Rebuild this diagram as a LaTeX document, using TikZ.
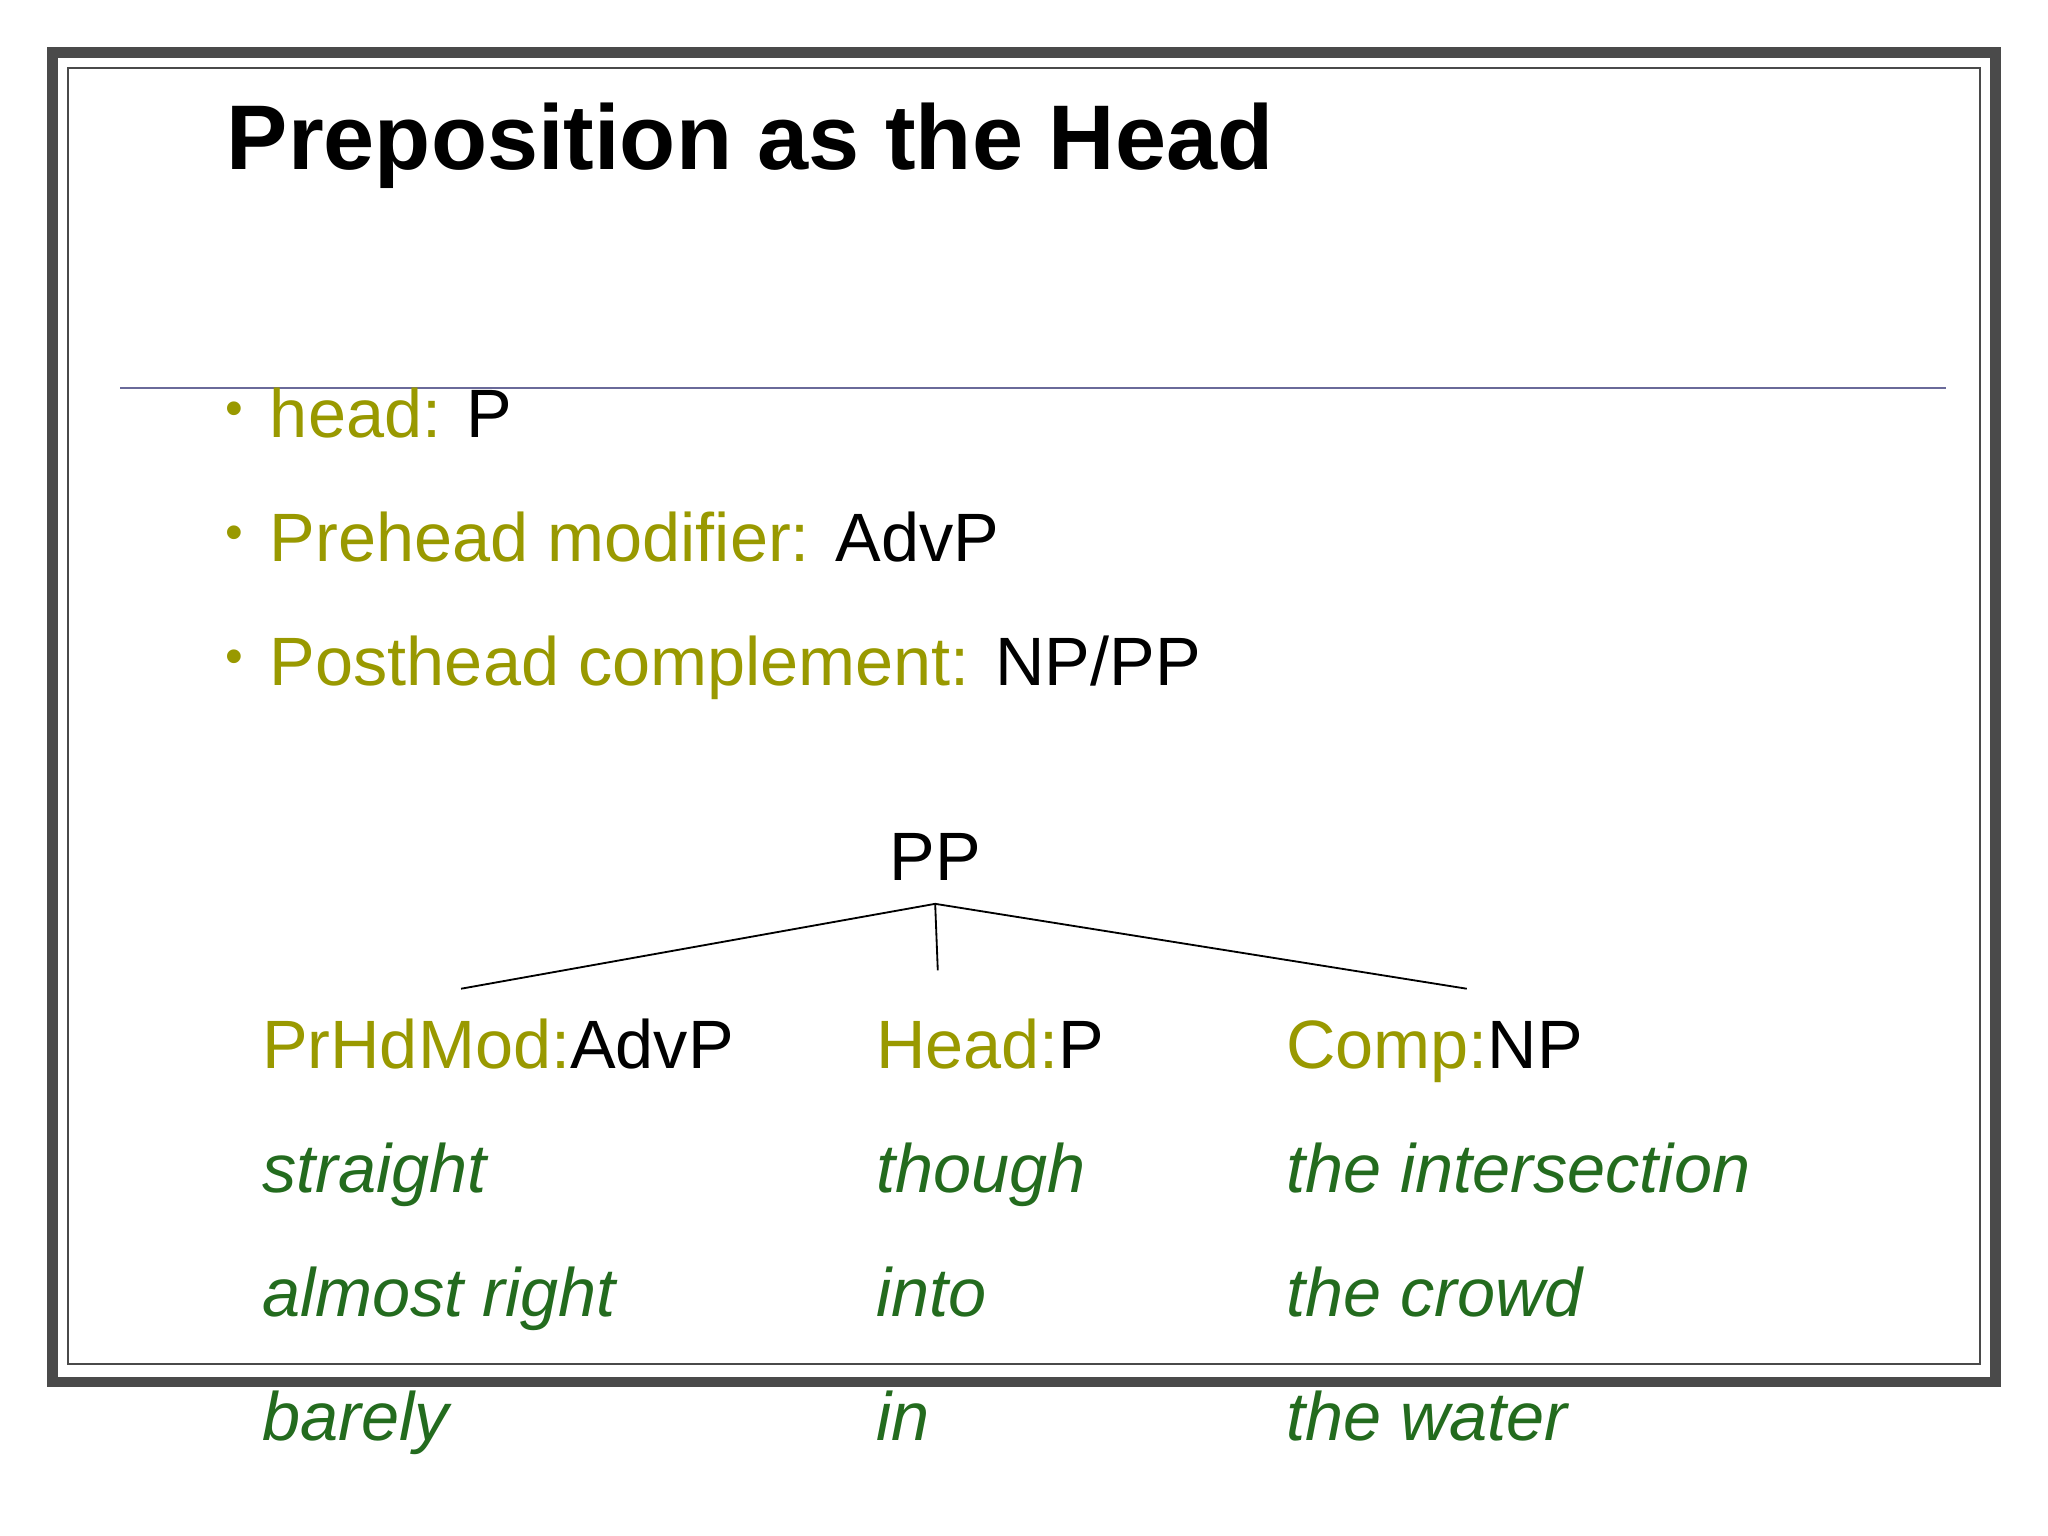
\documentclass[tikz,border=0pt]{standalone}
\usepackage{fontspec}
\setmainfont{Liberation Sans}
\definecolor{olive}{HTML}{999900}
\definecolor{dgreen}{HTML}{236B1E}
\definecolor{frame}{HTML}{4A4A4A}
\definecolor{rule}{HTML}{6A6A9A}
\begin{document}
\begin{tikzpicture}[x=0.01cm,y=-0.01cm,
  txt/.style={anchor=base west,inner sep=0pt,font=\fontsize{14.9}{18}\selectfont},
  ex/.style={txt,text=dgreen,font=\fontsize{14.9}{18}\selectfont\itshape},
  dot/.style={anchor=base west,inner sep=0pt,text=olive,font=\fontsize{11}{12}\selectfont},
  bul/.style={txt}]
\useasboundingbox (0,0) rectangle (1568,1176);
\draw[frame,line width=2.3pt] (40,40) rectangle (1528,1058);
\draw[frame,line width=0.4pt] (52,52) rectangle (1516,1044);
\node[txt,font=\fontsize{20}{24}\selectfont\bfseries] (title) at (173,130) {Preposition as the Head};
\draw[rule,line width=0.6pt] (92,297) -- (1490,297);
\node[dot] (d1) at (172,326) {•};
\node[dot] (d2) at (172,421) {•};
\node[dot] (d3) at (172,516) {•};
\node[bul] (b1) at (206,335) {\textcolor{olive}{head:} P};
\node[bul] (b2) at (206,430) {\textcolor{olive}{Prehead modifier:} AdvP};
\node[bul] (b3) at (206,525) {\textcolor{olive}{Posthead complement:} NP/PP};
\node[txt,anchor=base] (pp) at (716,674) {PP};
\coordinate (top) at (716,692);
\coordinate (l) at (353,757);
\coordinate (m) at (718,743);
\coordinate (r) at (1123,757);
\draw[line width=0.4pt] (top) -- (l) (top) -- (m) (top) -- (r);
\node[txt] (c1) at (200,818) {\textcolor{olive}{PrHdMod:}AdvP};
\node[txt] (c2) at (670,818) {\textcolor{olive}{Head:}P};
\node[txt] (c3) at (984,818) {\textcolor{olive}{Comp:}NP};
\node[ex] (a1) at (200,913) {straight};
\node[ex] (a2) at (200,1008) {almost right};
\node[ex] (a3) at (200,1103) {barely};
\node[ex] (h1) at (670,913) {though};
\node[ex] (h2) at (670,1008) {into};
\node[ex] (h3) at (670,1103) {in};
\node[ex] (n1) at (984,913) {the intersection};
\node[ex] (n2) at (984,1008) {the crowd};
\node[ex] (n3) at (984,1103) {the water};
\end{tikzpicture}
\end{document}
